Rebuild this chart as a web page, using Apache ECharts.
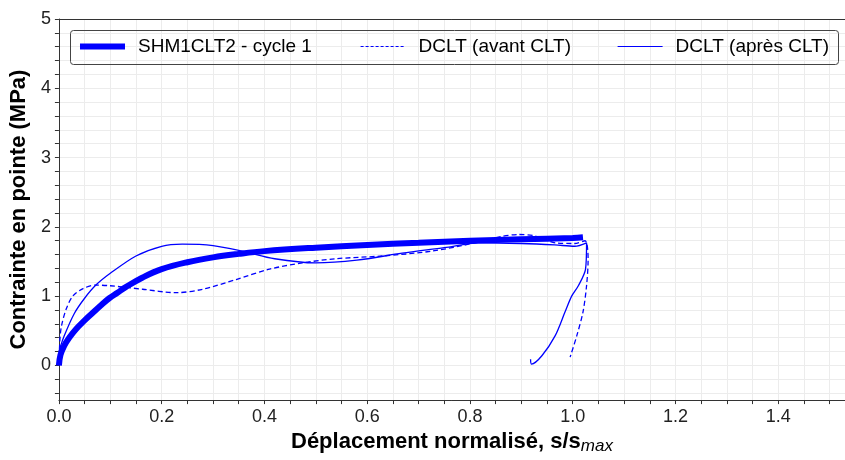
<!DOCTYPE html>
<html>
<head>
<meta charset="utf-8">
<script src="https://cdn.jsdelivr.net/npm/echarts@6/dist/echarts.min.js"></script>
<style>
html,body{margin:0;padding:0;background:#fff;}
#chart{width:845px;height:460px;}
</style>
</head>
<body>
<div id="chart"></div>
<script>
// Series names
const seriesNames = ['SHM1CLT2 - cycle 1', 'DCLT (avant CLT)', 'DCLT (après CLT)'];

// SHM1CLT2 - cycle 1 : [s/smax, MPa]
const cycle1X = [0, 0.003, 0.01, 0.02, 0.034, 0.05, 0.066, 0.082, 0.098, 0.114, 0.13, 0.163, 0.2, 0.25, 0.3, 0.35, 0.4, 0.5, 0.6, 0.7, 0.8, 0.9, 1.0, 1.02];
const cycle1Y = [0, 0.15, 0.28, 0.4, 0.53, 0.65, 0.76, 0.87, 0.97, 1.05, 1.13, 1.27, 1.39, 1.49, 1.56, 1.61, 1.65, 1.70, 1.74, 1.77, 1.80, 1.82, 1.84, 1.85];

// DCLT (avant CLT)
const avantX = [0, 0.002, 0.005, 0.014, 0.027, 0.047, 0.072, 0.1, 0.163, 0.228, 0.28, 0.345, 0.41, 0.474, 0.538, 0.63, 0.726, 0.81, 0.86, 0.894, 0.926, 0.966, 1.004, 1.024, 1.03, 1.027, 1.02, 1.008, 0.995];
const avantY = [0, 0.38, 0.57, 0.81, 1.0, 1.11, 1.16, 1.15, 1.10, 1.05, 1.10, 1.24, 1.39, 1.48, 1.54, 1.58, 1.65, 1.77, 1.86, 1.89, 1.87, 1.77, 1.76, 1.80, 1.53, 1.15, 0.77, 0.43, 0.12];

// DCLT (après CLT)
const apresX = [0, 0.01, 0.03, 0.05, 0.072, 0.1, 0.15, 0.2, 0.24, 0.3, 0.357, 0.42, 0.5, 0.58, 0.668, 0.75, 0.817, 0.9, 0.965, 1.004, 1.027, 1.025, 1.011, 0.998, 0.985, 0.966, 0.94, 0.92, 0.918];
const apresY = [0.2, 0.42, 0.75, 0.97, 1.16, 1.33, 1.58, 1.72, 1.75, 1.73, 1.65, 1.54, 1.48, 1.52, 1.62, 1.70, 1.77, 1.76, 1.74, 1.72, 1.77, 1.39, 1.15, 1.0, 0.77, 0.43, 0.14, 0.02, 0.09];

// Axis ticks
const xTickLabels = [0, 0.2, 0.4, 0.6, 0.8, 1.0, 1.2, 1.4];
const xMinorTicks = [0,0.05,0.1,0.15,0.2,0.25,0.3,0.35,0.4,0.45,0.5,0.55,0.6,0.65,0.7,0.75,0.8,0.85,0.9,0.95,1.0,1.05,1.1,1.15,1.2,1.25,1.3,1.35,1.4,1.45,1.5];
const yTickLabels = [0, 1, 2, 3, 4, 5];
const yMinorTicks = [-0.4,-0.2,0,0.2,0.4,0.6,0.8,1,1.2,1.4,1.6,1.8,2,2.2,2.4,2.6,2.8,3,3.2,3.4,3.6,3.8,4,4.2,4.4,4.6,4.8,5];

const zip = (xs, ys) => xs.map((x, i) => [x, ys[i]]);
const BLUE = '#0000ff';
const FONT = 'Liberation Sans, Arial, sans-serif';

const chart = echarts.init(document.getElementById('chart'), null, {renderer: 'canvas'});
const legendCommon = {
  orient: 'horizontal', padding: 0, itemWidth: 45, itemHeight: 18, top: 37,
  itemStyle: {opacity: 0},
  textStyle: {fontFamily: FONT, fontSize: 19, color: '#000', padding: [0, 0, 0, 8]},
  selectedMode: false
};
chart.setOption({
  animation: false,
  backgroundColor: '#fff',
  grid: {left: 56, right: 0, top: 19, bottom: 59, containLabel: false},
  legend: [
    Object.assign({}, legendCommon, {left: 77, data: [seriesNames[0]], lineStyle: {width: 6}}),
    Object.assign({}, legendCommon, {left: 360, data: [seriesNames[1]], lineStyle: {width: 1.2, type: [3, 2]}}),
    Object.assign({}, legendCommon, {left: 617, data: [seriesNames[2]], lineStyle: {width: 1.2}})
  ],
  graphic: [{
    type: 'rect', left: 70, top: 30, z: 100, silent: true,
    shape: {width: 768, height: 34, r: 3},
    style: {fill: 'rgba(0,0,0,0)', stroke: '#444', lineWidth: 1}
  }],
  xAxis: [{
    type: 'value', min: 0, max: 1.53,
    name: '{b|Déplacement normalisé, s/s}{s|max}',
    nameLocation: 'middle', nameGap: 27,
    nameTextStyle: {rich: {
      b: {fontFamily: FONT, fontSize: 22, fontWeight: 'bold', color: '#000'},
      s: {fontFamily: FONT, fontSize: 17, fontStyle: 'italic', color: '#000', verticalAlign: 'bottom', padding: [9, 0, 0, 0]}
    }},
    axisLine: {show: true, onZero: false, lineStyle: {color: '#333', width: 1}},
    axisTick: {show: true, length: 4, customValues: xMinorTicks, lineStyle: {color: '#333'}},
    axisLabel: {customValues: xTickLabels, fontFamily: FONT, fontSize: 18, color: '#222', margin: 8,
      formatter: v => v.toFixed(1)},
    splitLine: {show: true, lineStyle: {color: '#ececec', width: 1}}
  }, {
    type: 'value', min: 0, max: 1.53, position: 'top',
    axisLine: {show: true, onZero: false, lineStyle: {color: '#333', width: 1}},
    axisTick: {show: false}, axisLabel: {show: false}, splitLine: {show: false}
  }],
  yAxis: {
    type: 'value', min: -0.5, max: 5,
    name: 'Contrainte en pointe (MPa)',
    nameLocation: 'middle', nameGap: 18,
    nameTextStyle: {fontFamily: FONT, fontSize: 22, fontWeight: 'bold', color: '#000'},
    axisLine: {show: true, onZero: false, lineStyle: {color: '#333', width: 1}},
    axisTick: {show: true, length: 4, customValues: yMinorTicks, lineStyle: {color: '#333'}},
    axisLabel: {customValues: yTickLabels, fontFamily: FONT, fontSize: 18, color: '#222', margin: 8},
    splitLine: {show: true, lineStyle: {color: '#ececec', width: 1}}
  },
  series: [
    {name: seriesNames[0], type: 'line', data: zip(cycle1X, cycle1Y), smooth: 0.4, showSymbol: false, symbol: 'none',
      lineStyle: {color: BLUE, width: 6}, itemStyle: {color: BLUE}, z: 3},
    {name: seriesNames[1], type: 'line', data: zip(avantX, avantY), smooth: 0.3, showSymbol: false, symbol: 'none',
      lineStyle: {color: BLUE, width: 1.3, type: [5, 3]}, itemStyle: {color: BLUE}, z: 4},
    {name: seriesNames[2], type: 'line', data: zip(apresX, apresY), smooth: 0.3, showSymbol: false, symbol: 'none',
      lineStyle: {color: BLUE, width: 1.3}, itemStyle: {color: BLUE}, z: 4}
  ]
});
</script>
</body>
</html>
